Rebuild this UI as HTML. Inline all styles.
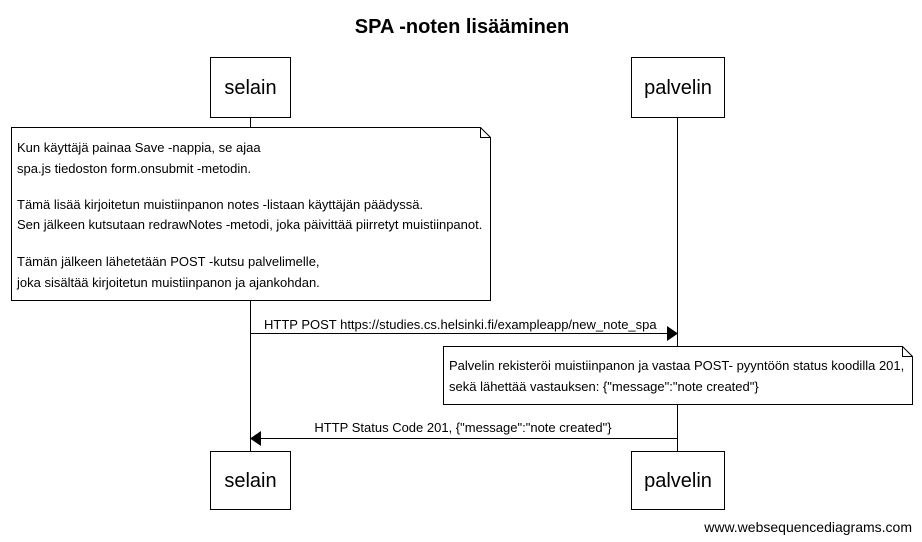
<!DOCTYPE html>
<html><head><meta charset="utf-8"><style>
html,body{margin:0;padding:0;background:#fff;}
svg{display:block;font-family:"Liberation Sans",sans-serif;}
</style></head><body>
<svg width="922" height="542" viewBox="0 0 922 542" xmlns="http://www.w3.org/2000/svg">
<rect width="922" height="542" fill="#fff"/>
<text x="462" y="33" font-size="20" font-weight="bold" text-anchor="middle">SPA -noten lisääminen</text>
<g stroke="#000" stroke-width="1" fill="#fff">
<line x1="250.5" y1="117" x2="250.5" y2="451"/>
<line x1="677.5" y1="117" x2="677.5" y2="451"/>
<rect x="210.5" y="57.5" width="80" height="60"/>
<rect x="631.5" y="57.5" width="93" height="60"/>
<rect x="210.5" y="451.5" width="80" height="58"/>
<rect x="631.5" y="451.5" width="93" height="58"/>
<path d="M11.5 127.5 H480.5 L490.5 137.5 V300.5 H11.5 Z"/>
<path d="M480.5 127.5 V137.5 H490.5" fill="none"/>
<path d="M443.5 346.5 H902.5 L912.5 356.5 V404.5 H443.5 Z"/>
<path d="M902.5 346.5 V356.5 H912.5" fill="none"/>
<line x1="250" y1="333.5" x2="668" y2="333.5"/>
<line x1="260" y1="438.5" x2="677" y2="438.5"/>
</g>
<polygon points="667,326 678,333.5 667,341" fill="#000"/>
<polygon points="261,431 250,438.5 261,446" fill="#000"/>
<g font-size="20" text-anchor="middle">
<text x="250.5" y="94">selain</text>
<text x="678" y="94">palvelin</text>
<text x="250.5" y="487">selain</text>
<text x="678" y="487">palvelin</text>
</g>
<g font-size="13">
<text x="17" y="152">Kun käyttäjä painaa Save -nappia, se ajaa</text>
<text x="17" y="173">spa.js tiedoston form.onsubmit -metodin.</text>
<text x="17" y="209">Tämä lisää kirjoitetun muistiinpanon notes -listaan käyttäjän päädyssä.</text>
<text x="17" y="229">Sen jälkeen kutsutaan redrawNotes -metodi, joka päivittää piirretyt muistiinpanot.</text>
<text x="17" y="266">Tämän jälkeen lähetetään POST -kutsu palvelimelle,</text>
<text x="17" y="287">joka sisältää kirjoitetun muistiinpanon ja ajankohdan.</text>
<text x="264" y="329">HTTP POST https://studies.cs.helsinki.fi/exampleapp/new_note_spa</text>
<text x="449" y="370">Palvelin rekisteröi muistiinpanon ja vastaa POST- pyyntöön status koodilla 201,</text>
<text x="449" y="391">sekä lähettää vastauksen: {"message":"note created"}</text>
<text x="463" y="432" text-anchor="middle">HTTP Status Code 201, {"message":"note created"}</text>
<text x="912" y="532" font-size="14" text-anchor="end">www.websequencediagrams.com</text>
</g>
</svg>
</body></html>
